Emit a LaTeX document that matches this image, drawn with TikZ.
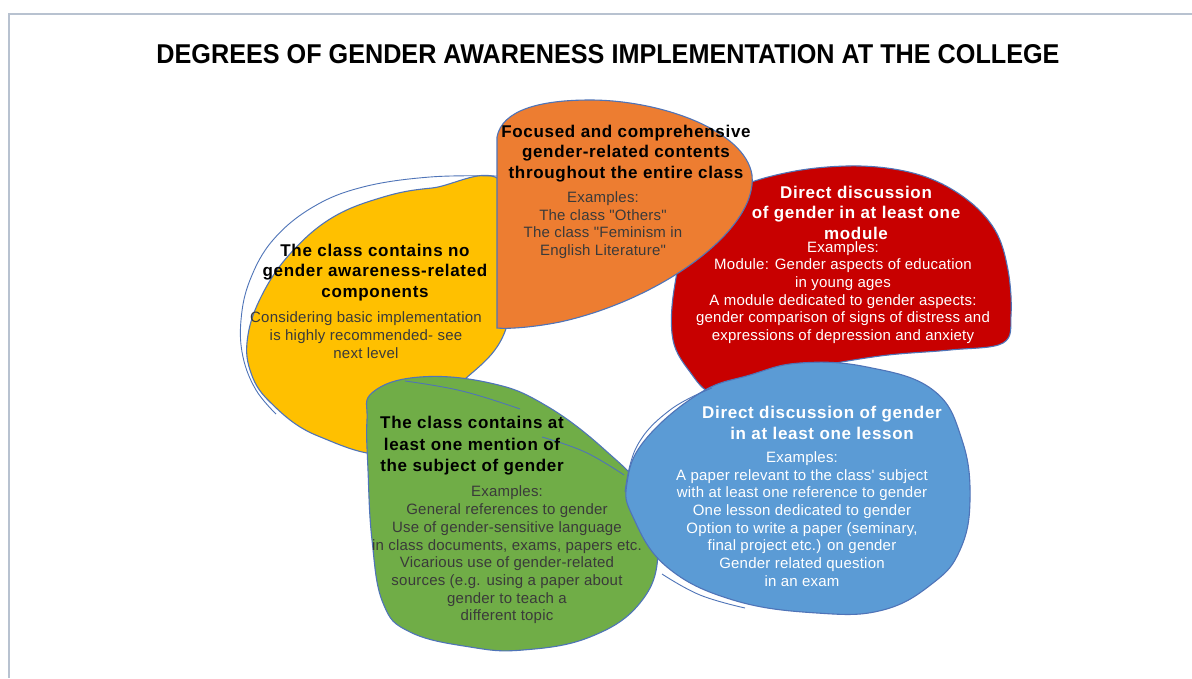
\documentclass[tikz,border=0pt]{standalone}
\usepackage{graphicx}
\usepackage{fontspec}
\setmainfont{Liberation Sans}
\newfontfamily\headfont[LetterSpace=4]{Liberation Sans}
\newfontfamily\bodyfont[LetterSpace=1.5]{Liberation Sans}
\definecolor{outl}{HTML}{4F74B8}
\definecolor{framec}{HTML}{B8C2D0}
\definecolor{cyellow}{HTML}{FFC000}
\definecolor{corange}{HTML}{ED7D31}
\definecolor{cred}{HTML}{C80000}
\definecolor{cgreen}{HTML}{70AD47}
\definecolor{cblue}{HTML}{5B9BD5}
\definecolor{darktext}{HTML}{3A3A3A}
\begin{document}
\begin{tikzpicture}[x=1pt,y=-1pt,
  blob/.style={draw=outl, line width=1.1pt},
  extraline/.style={draw=outl, line width=0.9pt},
  head/.style={align=center, inner sep=0pt, font=\headfont\bfseries\fontsize{17}{20.5}\selectfont},
  body/.style={align=center, inner sep=0pt, font=\bodyfont\fontsize{15}{17.7}\selectfont},
]
\useasboundingbox (0,0) rectangle (1192,678);
\fill[white] (0,0) rectangle (1192,678);
% frame
\draw[framec, line width=1.6pt] (9,678) -- (9,14) -- (1192,14);

% title
\node[inner sep=0pt] (title) at (608,54.5) {\resizebox{903pt}{19pt}{\bfseries DEGREES OF GENDER AWARENESS IMPLEMENTATION AT THE COLLEGE}};

% yellow
\path[blob, fill=cyellow] plot[smooth cycle, tension=0.65] coordinates {
  (505,186) (432,188) (380,198) (330,219) (289,255) (262,295) (248,335) (250,370) (270,402)
  (318,436) (395,452) (452,392) (508,322)};
\path[extraline] plot[smooth, tension=0.65] coordinates {
  (497,176) (430,177) (363,187) (313,207) (273,240) (250,280) (241,320) (243,357) (256,390) (276,414)};

% green
\path[blob, fill=cgreen] plot[smooth cycle, tension=0.7] coordinates {
  (373,392) (420,377) (490,383) (545,405) (605,450) (645,495) (658,553) (640,603) (590,637)
  (523,650) (470,647) (410,632) (383,603) (372,540) (368,470) (367,420)};
\path[extraline] plot[smooth, tension=0.7] coordinates {(405,381) (462,391) (520,409)};
\path[extraline] plot[smooth, tension=0.7] coordinates {(542,437) (585,452) (624,475)};

% red
\path[blob, fill=cred] plot[smooth cycle, tension=0.6] coordinates {
  (690,232) (730,192) (790,172) (860,166) (920,175) (965,198) (995,230) (1008,270) (1011,315)
  (1003,343) (950,350) (880,356) (800,370) (745,385) (712,393) (690,372) (673,340) (674,290)};

% orange
\path[blob, fill=corange] (497,137) .. controls (502,110) and (540,100) .. (590,100)
  .. controls (660,100) and (745,130) .. (752,175)
  .. controls (758,230) and (660,300) .. (560,322)
  .. controls (530,328) and (505,329) .. (497,328) -- cycle;

% blue
\path[blob, fill=cblue] plot[smooth cycle, tension=0.7] coordinates {
  (700,393) (750,375) (800,363) (867,367) (933,390) (962,440) (970,500) (960,550) (933,583)
  (883,610) (817,613) (733,600) (667,567) (633,517) (627,483) (645,440)};
\path[extraline] plot[smooth, tension=0.7] coordinates {(625,492) (637,446) (670,410) (712,388)};
\path[extraline] plot[smooth, tension=0.7] coordinates {(662,574) (700,595) (745,608)};

% texts
\node[head, text=black] (yhead) at (375,272.3) {The class contains no\\gender awareness-related\\components};
\node[body, text=darktext] (ybody) at (366,335) {Considering basic implementation\\is highly recommended- see\\next level};

\node[head, text=black] (ohead) at (626,153.5) {Focused and comprehensive\\gender-related contents\\throughout the entire class};
\node[body, text=darktext] (obody) at (603,225) {Examples:\\The class "Others"\\The class "Feminism in\\English Literature"};

\node[head, text=white] (rhead) at (856,212.5) {Direct discussion\\of gender in at least one\\module};
\node[body, text=white] (rbody) at (843,292.5) {Examples:\\Module: Gender aspects of education\\in young ages\\A module dedicated to gender aspects:\\gender comparison of signs of distress and\\expressions of depression and anxiety};

\node[head, text=black, font=\headfont\bfseries\fontsize{17}{21.5}\selectfont] (ghead) at (472,446) {The class contains at\\least one mention of\\the subject of gender};
\node[body, text=darktext] (gbody) at (507,555) {Examples:\\General references to gender\\Use of gender-sensitive language\\in class documents, exams, papers etc.\\Vicarious use of gender-related\\sources (e.g. using a paper about\\gender to teach a\\different topic};

\node[head, text=white] (bhead) at (822,423) {Direct discussion of gender\\in at least one lesson};
\node[body, text=white] (bbody) at (802,519) {Examples:\\A paper relevant to the class' subject\\with at least one reference to gender\\One lesson dedicated to gender\\Option to write a paper (seminary,\\final project etc.) on gender\\Gender related question\\in an exam};
\end{tikzpicture}
\end{document}
